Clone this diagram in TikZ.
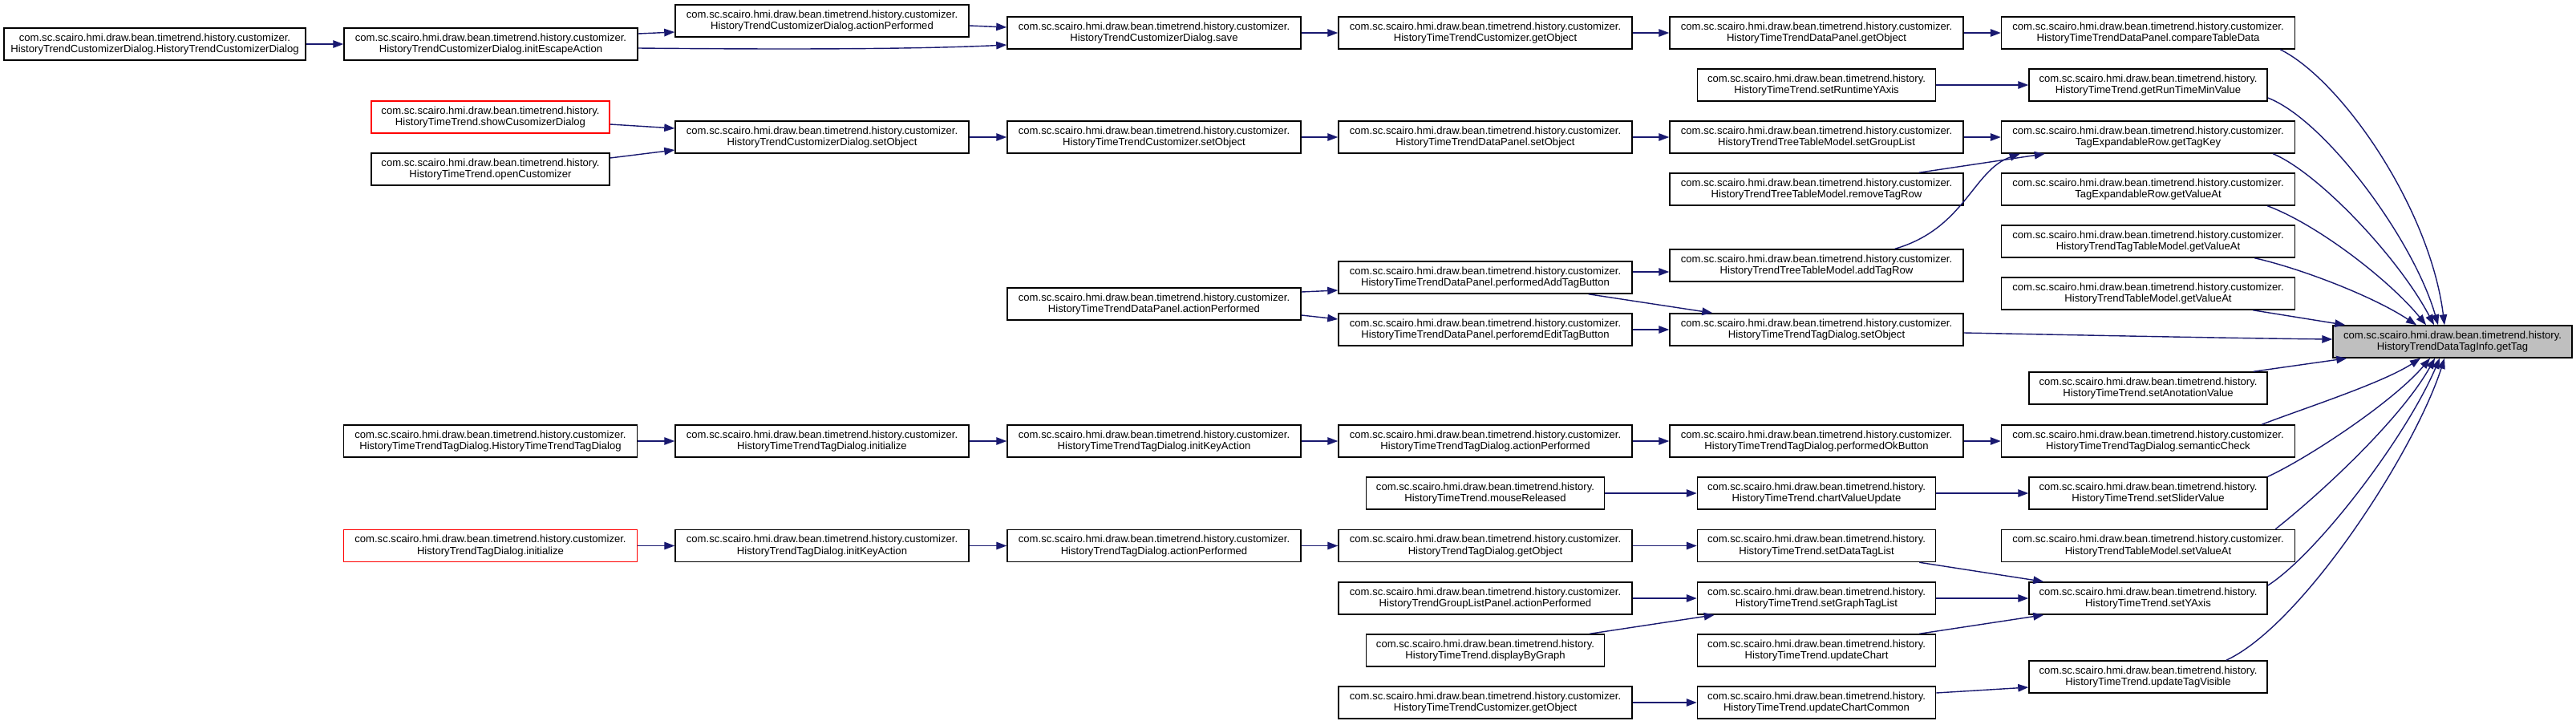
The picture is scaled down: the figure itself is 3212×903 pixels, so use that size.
\documentclass[tikz,border=0pt]{standalone}
\usepackage{fontspec}
\setmainfont{Liberation Sans}
\usetikzlibrary{arrows.meta}
\definecolor{edgec}{RGB}{25,25,112}
\definecolor{tagfill}{RGB}{191,191,191}
\newcommand\pkgc{com.sc.scairo.hmi.draw.bean.timetrend.history.customizer.}
\newcommand\pkgh{com.sc.scairo.hmi.draw.bean.timetrend.history.}
\newcommand\fnfont{\fontsize{13.1}{14.7}\selectfont}
\tikzset{
  fn/.style={draw=black, line width=1.5pt, fill=white, inner sep=0pt, minimum height=40pt, align=center, font=\fnfont, text=black},
  cw/.style={fn, minimum width=366pt},
  hw/.style={fn, minimum width=297pt},
  trunc/.style={draw=red},
  call/.style={draw=edgec, line width=1.4pt, -{Triangle[length=13pt,width=9.5pt]}}
}
\begin{document}
\begin{tikzpicture}[x=1pt,y=-1pt]
\fill[white] (0,0) rectangle (3212,903);
\useasboundingbox (0,0) rectangle (3212,903);

% column B..G nodes
\node[fn, minimum width=376pt] (hcd) at (193,55) {\pkgc\\HistoryTrendCustomizerDialog.HistoryTrendCustomizerDialog};
\node[cw] (iea) at (612,55) {\pkgc\\HistoryTrendCustomizerDialog.initEscapeAction};
\node[cw] (hap) at (1025,26) {\pkgc\\HistoryTrendCustomizerDialog.actionPerformed};
\node[cw] (save) at (1439,41) {\pkgc\\HistoryTrendCustomizerDialog.save};
\node[cw] (htcgo) at (1852,41) {\pkgc\\HistoryTimeTrendCustomizer.getObject};
\node[cw] (dpgo) at (2265,41) {\pkgc\\HistoryTimeTrendDataPanel.getObject};
\node[cw] (ctd) at (2678.5,41) {\pkgc\\HistoryTimeTrendDataPanel.compareTableData};
\node[hw] (srya) at (2265,106) {\pkgh\\HistoryTimeTrend.setRuntimeYAxis};
\node[hw] (grtmv) at (2678.5,106) {\pkgh\\HistoryTimeTrend.getRunTimeMinValue};
\node[hw, trunc] (scd) at (611.5,146) {\pkgh\\HistoryTimeTrend.showCusomizerDialog};
\node[hw] (opc) at (611.5,211) {\pkgh\\HistoryTimeTrend.openCustomizer};
\node[cw] (hso) at (1025,171) {\pkgc\\HistoryTrendCustomizerDialog.setObject};
\node[cw] (htcso) at (1439,171) {\pkgc\\HistoryTimeTrendCustomizer.setObject};
\node[cw] (dpso) at (1852,171) {\pkgc\\HistoryTimeTrendDataPanel.setObject};
\node[cw] (sgl) at (2265,171) {\pkgc\\HistoryTrendTreeTableModel.setGroupList};
\node[cw] (gtk) at (2678.5,171) {\pkgc\\TagExpandableRow.getTagKey};
\node[cw] (rtr) at (2265,236) {\pkgc\\HistoryTrendTreeTableModel.removeTagRow};
\node[cw] (ter) at (2678.5,236) {\pkgc\\TagExpandableRow.getValueAt};
\node[cw] (httm) at (2678.5,301) {\pkgc\\HistoryTrendTagTableModel.getValueAt};
\node[cw] (atr) at (2265,331) {\pkgc\\HistoryTrendTreeTableModel.addTagRow};
\node[cw] (pab) at (1852,346) {\pkgc\\HistoryTimeTrendDataPanel.performedAddTagButton};
\node[cw] (htm) at (2678.5,366) {\pkgc\\HistoryTrendTableModel.getValueAt};
\node[cw] (dpap) at (1439,379) {\pkgc\\HistoryTimeTrendDataPanel.actionPerformed};
\node[cw] (peb) at (1852,411) {\pkgc\\HistoryTimeTrendDataPanel.perforemdEditTagButton};
\node[cw] (tso) at (2265,411) {\pkgc\\HistoryTimeTrendTagDialog.setObject};
\node[fn, minimum width=298pt, fill=tagfill] (gettag) at (3058,426) {\pkgh\\HistoryTrendDataTagInfo.getTag};
\node[hw] (sav) at (2678.5,484) {\pkgh\\HistoryTimeTrend.setAnotationValue};
\node[cw] (tt) at (611.5,550) {\pkgc\\HistoryTimeTrendTagDialog.HistoryTimeTrendTagDialog};
\node[cw] (tti) at (1025,550) {\pkgc\\HistoryTimeTrendTagDialog.initialize};
\node[cw] (ttk) at (1439,550) {\pkgc\\HistoryTimeTrendTagDialog.initKeyAction};
\node[cw] (ttap) at (1852,550) {\pkgc\\HistoryTimeTrendTagDialog.actionPerformed};
\node[cw] (pok) at (2265,550) {\pkgc\\HistoryTimeTrendTagDialog.performedOkButton};
\node[cw] (sem) at (2678.5,550) {\pkgc\\HistoryTimeTrendTagDialog.semanticCheck};
\node[hw] (mr) at (1852,615) {\pkgh\\HistoryTimeTrend.mouseReleased};
\node[hw] (cvu) at (2265,615) {\pkgh\\HistoryTimeTrend.chartValueUpdate};
\node[hw] (ssv) at (2678.5,615) {\pkgh\\HistoryTimeTrend.setSliderValue};
\node[cw, trunc] (hti) at (611.5,680.5) {\pkgc\\HistoryTrendTagDialog.initialize};
\node[cw] (htk) at (1025,680.5) {\pkgc\\HistoryTrendTagDialog.initKeyAction};
\node[cw] (htap) at (1439,680.5) {\pkgc\\HistoryTrendTagDialog.actionPerformed};
\node[cw] (htgo) at (1852,680.5) {\pkgc\\HistoryTrendTagDialog.getObject};
\node[hw] (sdtl) at (2265,680.5) {\pkgh\\HistoryTimeTrend.setDataTagList};
\node[cw] (sva) at (2678.5,680.5) {\pkgc\\HistoryTrendTableModel.setValueAt};
\node[cw] (glp) at (1852,746) {\pkgc\\HistoryTrendGroupListPanel.actionPerformed};
\node[hw] (sgtl) at (2265,746) {\pkgh\\HistoryTimeTrend.setGraphTagList};
\node[hw] (sya) at (2678.5,746) {\pkgh\\HistoryTimeTrend.setYAxis};
\node[hw] (dbg) at (1852,811) {\pkgh\\HistoryTimeTrend.displayByGraph};
\node[hw] (uc) at (2265,811) {\pkgh\\HistoryTimeTrend.updateChart};
\node[hw] (utv) at (2678.5,844) {\pkgh\\HistoryTimeTrend.updateTagVisible};
\node[cw] (htcgo2) at (1852,876) {\pkgc\\HistoryTimeTrendCustomizer.getObject};
\node[hw] (ucc) at (2265,876) {\pkgh\\HistoryTimeTrend.updateChartCommon};

% edges, top group
\draw[call] (hcd.east) -- (iea.west);
\draw[call] ([yshift=13pt]iea.east) -- ([yshift=-14pt]hap.west);
\draw[call] ([yshift=-5pt]iea.east) .. controls (1000,62) and (1150,61) .. ([yshift=-15pt]save.west);
\draw[call] ([yshift=-6pt]hap.east) -- ([yshift=7pt]save.west);
\draw[call] (save.east) -- (htcgo.west);
\draw[call] (htcgo.east) -- (dpgo.west);
\draw[call] (dpgo.east) -- (ctd.west);
\draw[call] ([xshift=-19pt]ctd.south east) .. controls (2920,100) and (3030,260) .. ([xshift=-10pt]gettag.north);
\draw[call] (srya.east) -- (grtmv.west);
\draw[call] ([yshift=-16pt]grtmv.east) .. controls (2900,150) and (3010,300) .. ([xshift=-18pt]gettag.north);
\draw[call] ([yshift=-9pt]scd.east) -- ([yshift=11pt]hso.west);
\draw[call] ([yshift=14pt]opc.east) -- ([yshift=-16pt]hso.west);
\draw[call] (hso.east) -- (htcso.west);
\draw[call] (htcso.east) -- (dpso.west);
\draw[call] (dpso.east) -- (sgl.west);
\draw[call] (sgl.east) -- (gtk.west);
\draw[call] ([xshift=-56pt]rtr.north east) -- ([xshift=55pt]gtk.south west);
\draw[call] ([xshift=-86pt]atr.north east) .. controls (2450,285) and (2460,212) .. ([xshift=24pt]gtk.south west);
\draw[call] ([xshift=-28pt]gtk.south east) .. controls (2890,215) and (2990,320) .. ([xshift=-23pt]gettag.north);
\draw[call] ([xshift=-35pt]ter.south east) .. controls (2890,280) and (2980,350) .. ([xshift=-33pt]gettag.north);
\draw[call] ([xshift=-51pt]httm.south east) .. controls (2870,335) and (2960,370) .. ([xshift=-45pt]gettag.north);
\draw[call] ([xshift=-53pt]htm.south east) -- ([xshift=16pt]gettag.north west);
% middle group
\draw[call] ([yshift=15pt]dpap.east) -- ([yshift=-16pt]pab.west);
\draw[call] ([yshift=-14pt]dpap.east) -- ([yshift=13pt]peb.west);
\draw[call] ([yshift=7pt]pab.east) -- ([yshift=-8pt]atr.west);
\draw[call] ([xshift=-55pt]pab.south east) -- ([xshift=54pt]tso.north west);
\draw[call] (peb.east) -- (tso.west);
\draw[call] ([yshift=-4pt]tso.east) .. controls (2600,418) and (2800,422) .. ([yshift=3pt]gettag.west);
\draw[call] ([xshift=-18pt]sav.north east) -- ([xshift=18pt]gettag.south west);
% lower group
\draw[call] (tt.east) -- (tti.west);
\draw[call] (tti.east) -- (ttk.west);
\draw[call] (ttk.east) -- (ttap.west);
\draw[call] (ttap.east) -- (pok.west);
\draw[call] (pok.east) -- (sem.west);
\draw[call] ([xshift=-42pt]sem.north east) .. controls (2870,510) and (2970,478) .. ([xshift=-40pt]gettag.south);
\draw[call] (mr.east) -- (cvu.west);
\draw[call] (cvu.east) -- (ssv.west);
\draw[call] (ssv.north east) .. controls (2880,570) and (2985,500) .. ([xshift=-28pt]gettag.south);
\draw[call] ([xshift=-25pt]sva.north east) .. controls (2900,610) and (2995,520) .. ([xshift=-22pt]gettag.south);
\draw[call] (hti.east) -- (htk.west);
\draw[call] (htk.east) -- (htap.west);
\draw[call] (htap.east) -- (htgo.west);
\draw[call] (htgo.east) -- (sdtl.west);
\draw[call] ([xshift=-21pt]sdtl.south east) -- ([xshift=19pt]sya.north west);
\draw[call] (glp.east) -- (sgtl.west);
\draw[call] ([xshift=-19pt]dbg.north east) -- ([xshift=22pt]sgtl.south west);
\draw[call] (sgtl.east) -- (sya.west);
\draw[call] ([xshift=-21pt]uc.north east) -- ([xshift=19pt]sya.south west);
\draw[call] ([yshift=16pt]sya.east) .. controls (2890,690) and (3000,545) .. ([xshift=-16pt]gettag.south);
\draw[call] (htcgo2.east) -- (ucc.west);
\draw[call] ([yshift=12pt]ucc.east) -- ([yshift=-13pt]utv.west);
\draw[call] ([xshift=-52pt]utv.north east) .. controls (2870,780) and (3010,565) .. ([xshift=-10pt]gettag.south);
\end{tikzpicture}
\end{document}
